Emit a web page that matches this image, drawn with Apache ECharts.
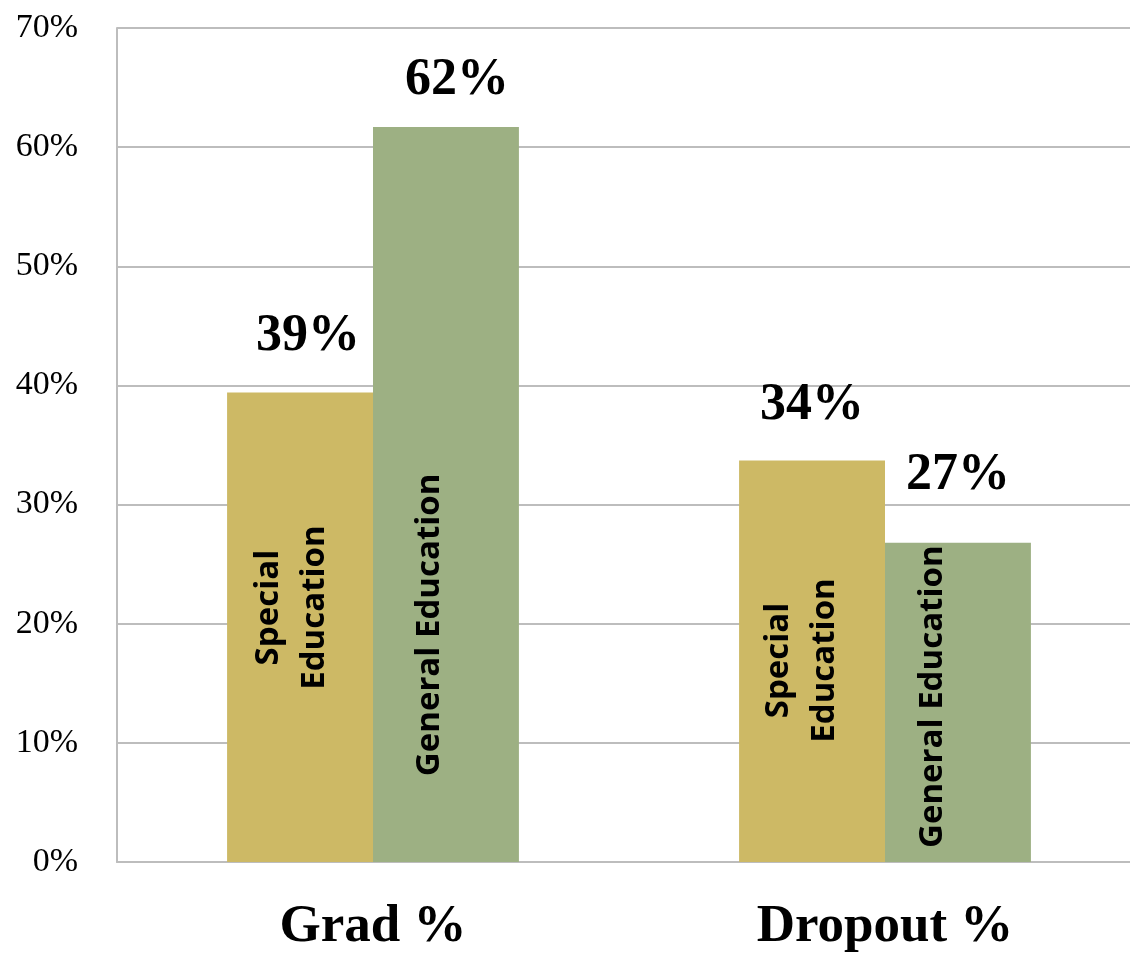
<!DOCTYPE html>
<html><head><meta charset="utf-8">
<script src="https://cdn.jsdelivr.net/npm/echarts@6/dist/echarts.min.js"></script>
<style>html,body{margin:0;padding:0;background:#fff}#c{width:1130px;height:957px}</style>
</head><body><div id="c"></div>
<script>
// ---- data ----
const categories = ['Grad %', 'Dropout %'];
const seriesNames = ['Special Education', 'General Education'];
const seriesLabels = ['Special\nEducation', 'General Education'];
const specialEd = [39.4, 33.7];
const generalEd = [61.7, 26.8];
const yMin = 0, yMax = 70, yStep = 10;

// ---- styling / layout ----
const serif = 'Liberation Serif';
const sans = 'Open Sans';
const colors = ['#CDB965', '#9DB083'];
const valueSets = [specialEd, generalEd];
const topOffsets = [[[8, -30], [0, -29]], [[11, -20], [0, -41]]];
const innerPos = [[[65, 215], [63, 200]], [[57, 498], [48, 154]]];
const gridCol = '#bdbdbd';

const chart = echarts.init(document.getElementById('c'));

const series = [];
valueSets.forEach((vals, s) => {
  series.push({
    type: 'bar', name: seriesNames[s], xAxisIndex: 0,
    barGap: '0%', barCategoryGap: '43%',
    itemStyle: { color: colors[s] },
    data: vals.map((v, i) => ({ value: v, label: { offset: topOffsets[s][i] } })),
    label: {
      show: true, position: 'top', distance: 0,
      formatter: p => Math.round(p.value) + '%',
      fontFamily: serif, fontWeight: 'bold', fontSize: 52, color: '#000'
    }
  });
});
valueSets.forEach((vals, s) => {
  series.push({
    type: 'bar', name: seriesNames[s] + ' label', xAxisIndex: 1, silent: true,
    barGap: '0%', barCategoryGap: '43%',
    itemStyle: { color: 'rgba(0,0,0,0)' },
    data: vals.map((v, i) => ({ value: v, label: { position: innerPos[s][i] } })),
    label: {
      show: true, rotate: 90, align: 'center', verticalAlign: 'middle',
      formatter: () => seriesLabels[s],
      fontFamily: sans, fontWeight: 'bold', fontSize: 33, lineHeight: 46, color: '#000'
    }
  });
});

chart.setOption({
  animation: false,
  backgroundColor: '#fff',
  grid: { left: 117, top: 28, width: 1024, height: 834, containLabel: false, outerBoundsMode: 'none' },
  xAxis: [
    {
      type: 'category', data: categories,
      axisLine: { show: true, lineStyle: { color: gridCol, width: 2 } },
      axisTick: { show: false },
      axisLabel: { fontFamily: serif, fontWeight: 'bold', fontSize: 53, color: '#000', margin: 39 }
    },
    { type: 'category', data: categories, show: false }
  ],
  yAxis: {
    type: 'value', min: yMin, max: yMax, interval: yStep,
    axisLine: { show: true, lineStyle: { color: gridCol, width: 2 } },
    axisTick: { show: false },
    splitLine: { show: true, lineStyle: { color: gridCol, width: 2 } },
    axisLabel: { formatter: '{value}%', fontFamily: serif, fontSize: 34, color: '#000', margin: 39 }
  },
  series: series
});
</script></body></html>
